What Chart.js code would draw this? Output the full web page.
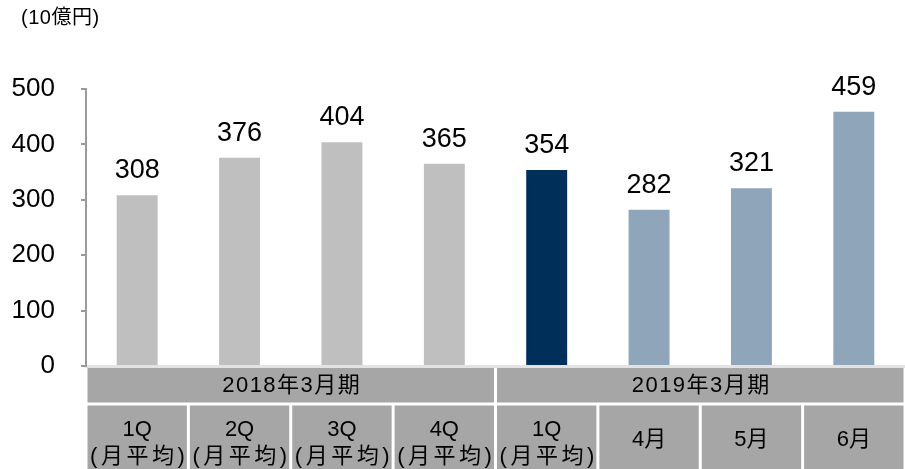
<!DOCTYPE html>
<html>
<head>
<meta charset="utf-8">
<script src="https://cdn.jsdelivr.net/npm/chart.js@4"></script>
<style>
  html, body { margin: 0; padding: 0; background: #fff; }
  canvas { display: block; }
</style>
</head>
<body>
<canvas id="chart" width="905" height="469"></canvas>
<script>
	// ******************************************************** DATA

	var unitLabel = '(10億円)';
	var categories = [['1Q', '(月平均)'], ['2Q', '(月平均)'], ['3Q', '(月平均)'], ['4Q', '(月平均)'],
	                  ['1Q', '(月平均)'], ['4月'], ['5月'], ['6月']];
	var periods = ['2018年3月期', '2019年3月期'];
	var periodCounts = [4, 4];
	var values = [308, 376, 404, 365, 354, 282, 321, 459];
	var yTicks = [0, 100, 200, 300, 400, 500];

	var barColors = ['#bfbfbf', '#bfbfbf', '#bfbfbf', '#bfbfbf', '#00305a', '#8fa5ba', '#8fa5ba', '#8fa5ba'];
	var FONT = '"Liberation Sans", Arial, "Noto Sans CJK JP", sans-serif';

	// ******************************************************** PLUGIN

	var extras = {
		id: 'extras',
		afterDatasetsDraw: function (chart) {
			var ctx = chart.ctx;
			var meta = chart.getDatasetMeta(0);
			ctx.save();
			ctx.fillStyle = '#000';
			ctx.font = '27px ' + FONT;
			ctx.textAlign = 'center';
			ctx.textBaseline = 'alphabetic';
			meta.data.forEach(function (bar, i) {
				ctx.fillText(String(values[i]), bar.x, bar.y - 17);
			});
			ctx.restore();
		},
		afterDraw: function (chart) {
			var ctx = chart.ctx;
			var area = chart.chartArea;
			var xs = chart.scales.x;
			var w = (area.right - area.left) / categories.length;
			var bottom = area.bottom;
			var H = chart.height;

			ctx.save();
			// unit
			ctx.fillStyle = '#000';
			ctx.font = '20px ' + FONT;
			ctx.letterSpacing = '0.5px';
			ctx.textAlign = 'left';
			ctx.textBaseline = 'alphabetic';
			ctx.fillText(unitLabel, 21, 24);

			// period row
			var r1Top = bottom + 2, r1Bot = bottom + 36.5;
			var r2Top = bottom + 39.5, r2Bot = H;
			var start = 0;
			periods.forEach(function (p, g) {
				var n = periodCounts[g];
				var x0 = xs.getPixelForValue(start) - w / 2 + 1.5;
				var x1 = xs.getPixelForValue(start + n - 1) + w / 2 - 1.5;
				ctx.fillStyle = '#a6a6a6';
				ctx.fillRect(x0, r1Top, x1 - x0, r1Bot - r1Top);
				ctx.fillStyle = '#000';
				ctx.font = '22px ' + FONT;
				ctx.letterSpacing = '1.5px';
				ctx.textAlign = 'center';
				ctx.textBaseline = 'middle';
				ctx.fillText(p, (x0 + x1) / 2 + 1, (r1Top + r1Bot) / 2 + 1);
				start += n;
			});

			// category row
			categories.forEach(function (lines, i) {
				var cx = xs.getPixelForValue(i);
				var x0 = cx - w / 2 + 1.5;
				var x1 = cx + w / 2 - 1.5;
				ctx.fillStyle = '#a6a6a6';
				ctx.fillRect(x0, r2Top, x1 - x0, r2Bot - r2Top);
				ctx.fillStyle = '#000';
				ctx.font = '22px ' + FONT;
				ctx.textAlign = 'center';
				ctx.textBaseline = 'middle';
				if (lines.length === 1) {
					ctx.letterSpacing = '0px';
					ctx.fillText(lines[0], cx, (r2Top + r2Bot) / 2 + 3);
				} else {
					ctx.letterSpacing = '0px';
					ctx.fillText(lines[0], cx, r2Top + 24);
					ctx.letterSpacing = '3.5px';
					ctx.fillText(lines[1], cx + 2, r2Top + 51);
				}
			});
			ctx.restore();
		}
	};

	// ******************************************************** CHART

	var ctxc = document.getElementById('chart').getContext('2d');

	new Chart(ctxc, {
		type: 'bar',
		data: {
			labels: categories.map(function (c) { return c.join(' '); }),
			datasets: [{
				data: values,
				backgroundColor: barColors,
				borderWidth: 0,
				categoryPercentage: 1,
				barPercentage: 0.4
			}]
		},
		options: {
			responsive: false,
			animation: false,
			layout: { padding: { top: 89, right: 0, left: 0, bottom: 0 } },
			plugins: {
				legend: { display: false },
				tooltip: { enabled: false },
				title: { display: false }
			},
			scales: {
				x: {
					grid: { display: false },
					ticks: { display: false },
					border: { display: true, color: '#e3e3e3', width: 3 },
					afterFit: function (scale) { scale.height = 103; }
				},
				y: {
					min: 0,
					max: 500,
					afterBuildTicks: function (scale) {
						scale.ticks = yTicks.map(function (v) { return { value: v }; });
					},
					grid: { drawOnChartArea: false, drawTicks: true, tickLength: 5, color: '#9a9a9a', lineWidth: 2 },
					border: { display: true, color: '#9a9a9a', width: 2 },
					ticks: {
						padding: 26,
						color: '#000',
						font: { family: FONT, size: 26 }
					},
					afterFit: function (scale) { scale.width = 86; }
				}
			}
		},
		plugins: [extras]
	});
</script>
</body>
</html>
